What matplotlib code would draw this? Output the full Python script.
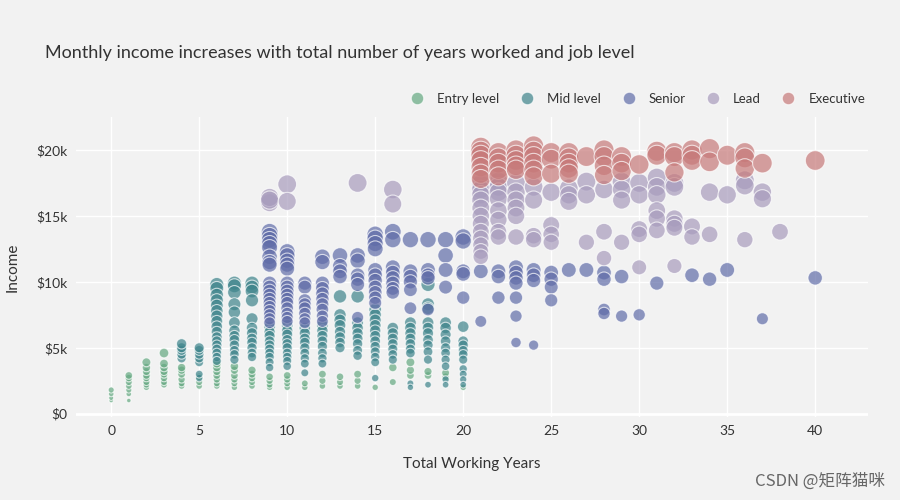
import numpy as np
import matplotlib
matplotlib.use('Agg')
import matplotlib.pyplot as plt
from matplotlib.lines import Line2D

# monthly income (in $k) per total working years, one dict per job level
entry_level = {
    0: [1.0, 1.2, 1.5, 1.8],
    1: [1.0, 1.5, 1.8, 2.1, 2.4, 2.7, 2.9],
    2: [2.0, 2.2, 2.4, 2.7, 2.9, 3.2, 3.5, 3.9],
    3: [2.2, 2.4, 2.7, 3.0, 3.2, 3.5, 3.8, 4.6],
    4: [2.1, 2.3, 2.6, 3.0, 3.3, 3.5],
    5: [2.1, 2.4, 2.8],
    6: [2.1, 2.3, 2.6, 2.9, 3.2, 3.5, 3.8],
    7: [2.0, 2.3, 2.6, 2.9, 3.3, 3.6],
    8: [2.1, 2.4, 2.7, 3.0, 3.3],
    9: [2.0, 2.2, 2.5, 2.8],
    10: [2.0, 2.3, 2.6, 2.9],
    11: [2.0, 2.3],
    12: [2.1, 2.5, 3.0],
    13: [2.1, 2.4, 2.8],
    14: [2.1, 2.5, 3.0],
    15: [2.0],
    16: [2.4, 3.5],
    17: [2.9, 3.3, 3.9],
    18: [2.9, 3.2],
    19: [2.8, 3.1],
    20: [2.0],
}
mid_level = {
    4: [4.2, 4.5, 4.8, 5.0, 5.3],
    5: [2.7, 3.0, 3.9, 4.2, 4.5, 4.8, 5.0],
    6: [9.8, 9.5, 9.0, 8.6, 8.2, 7.8, 7.4, 7.0, 6.6, 6.2, 5.8, 5.5, 5.2, 4.9, 4.6, 4.3, 4.0],
    7: [9.9, 9.7, 9.2, 8.3, 7.7, 6.9, 6.3, 5.9, 5.6, 5.2, 4.8, 4.5, 4.1],
    8: [9.9, 9.6, 9.3, 8.6, 7.2, 6.5, 6.1, 5.7, 5.4, 5.0, 4.6, 4.3],
    9: [6.6, 6.2, 5.9, 5.5, 5.2, 4.9, 4.6, 4.3, 3.9, 3.5],
    10: [6.7, 6.3, 6.0, 5.6, 5.3, 5.0, 4.6, 4.3, 4.0, 3.6],
    11: [6.5, 6.1, 5.7, 5.4, 5.0, 4.6, 4.2, 3.8, 3.1],
    12: [6.7, 6.3, 5.9, 5.5, 5.1, 4.6, 4.2, 3.8],
    13: [8.9, 7.5, 7.1, 6.7, 6.2, 5.8, 5.4, 5.0],
    14: [8.9, 6.9, 6.5, 6.1, 5.7, 5.3, 4.8, 4.4],
    15: [7.9, 7.5, 7.1, 6.7, 6.3, 5.9, 5.5, 5.1, 4.7, 4.3, 3.9, 2.7],
    16: [6.5, 6.1, 5.7, 5.3, 4.9, 4.5, 4.1],
    17: [6.9, 6.5, 6.1, 5.7, 5.3, 4.9, 4.6, 2.3, 2.0],
    18: [9.8, 8.3, 8.0, 6.9, 6.5, 6.1, 5.6, 5.2, 4.7, 4.1, 2.2],
    19: [6.9, 6.5, 6.0, 5.5, 5.0, 4.6, 4.1, 3.6, 2.6, 2.2],
    20: [6.6, 5.5, 5.2, 4.8, 4.5, 4.1, 3.4, 3.0, 2.6, 2.2],
}
senior = {
    9: [13.8, 13.5, 13.2, 12.9, 12.6, 11.9, 11.5, 11.3, 9.9, 9.6, 9.3, 9.0, 8.7, 8.4, 8.1, 7.8, 7.5, 7.2, 6.9],
    10: [12.3, 12.0, 11.6, 11.3, 11.0, 9.9, 9.6, 9.3, 9.0, 8.7, 8.4, 8.0, 7.6, 7.3, 7.0],
    11: [9.9, 9.6, 8.6, 8.3, 8.0, 7.6, 7.2, 6.9],
    12: [11.9, 11.5, 9.9, 9.5, 9.1, 8.7, 8.3, 7.9, 7.4, 7.0],
    13: [12.0, 11.2, 10.8, 10.4],
    14: [12.0, 11.6, 10.5, 10.2, 9.8, 7.3],
    15: [13.6, 13.3, 12.9, 12.5, 10.9, 10.5, 10.1, 9.6, 9.2, 8.8, 8.4],
    16: [13.8, 13.2, 11.1, 10.7, 10.3, 9.9, 9.5, 9.2],
    17: [13.2, 10.8, 10.4, 10.0, 9.4, 8.0],
    18: [13.2, 10.9, 10.5, 10.3, 7.9],
    19: [13.2, 12.0, 10.9, 9.6],
    20: [13.4, 13.1, 10.8, 10.6, 8.8],
    21: [10.8, 7.0],
    22: [10.8, 10.4, 8.8],
    23: [11.1, 10.7, 10.3, 9.9, 8.8, 7.4, 5.4],
    24: [10.9, 10.5, 10.1, 5.2],
    25: [10.7, 10.2, 9.6, 8.6],
    26: [10.9],
    27: [10.9],
    28: [10.7, 10.2, 7.9, 7.6],
    29: [10.4, 7.4],
    30: [7.5],
    31: [9.9],
    33: [10.5],
    34: [10.2],
    35: [10.9],
    37: [7.2],
    40: [10.3],
}
lead = {
    9: [16.0, 16.4, 16.2],
    10: [17.4, 16.1],
    14: [17.5],
    16: [17.0, 15.9],
    21: [17.4, 17.0, 16.6, 16.2, 15.6, 15.0, 14.4, 13.8, 13.3, 12.8, 12.3, 11.9],
    22: [17.6, 17.2, 16.8, 16.3, 15.4, 14.7, 13.8, 13.4],
    23: [17.5, 16.8, 16.2, 15.6, 15.0, 13.4],
    24: [17.2, 16.2, 13.5, 13.2],
    25: [16.8, 14.3, 13.6, 13.0],
    26: [17.1, 16.6, 16.1],
    27: [17.6, 16.6, 13.0],
    28: [17.0, 13.8, 11.8],
    29: [17.6, 17.0, 16.2, 13.0],
    30: [17.5, 16.6, 14.0, 13.6, 11.1],
    31: [17.9, 17.2, 16.6, 15.4, 14.8, 13.9],
    32: [17.5, 17.2, 14.8, 14.4, 14.1, 11.2],
    33: [14.2, 13.4],
    34: [16.8, 13.6],
    35: [16.6],
    36: [17.7, 17.3, 13.2],
    37: [16.8, 16.3],
    38: [13.8],
}
executive = {
    21: [20.2, 19.9, 19.6, 19.2, 18.7, 18.2, 17.8],
    22: [19.8, 19.4, 19.0, 18.5, 18.0],
    23: [20.0, 19.6, 19.2, 18.8, 18.5],
    24: [20.3, 19.9, 19.5, 19.0, 18.5, 18.0],
    25: [19.8, 19.3, 18.2],
    26: [19.8, 19.4, 19.0, 18.6, 18.2],
    27: [19.5],
    28: [20.0, 19.5, 18.8, 18.1],
    29: [19.5, 19.0, 18.4],
    30: [18.9],
    31: [19.9, 19.6],
    32: [19.8, 19.5, 18.3],
    33: [20.0, 19.6, 19.2],
    34: [20.1, 19.1],
    35: [19.6],
    36: [19.8, 19.4, 18.6],
    37: [19.0],
    40: [19.2],
}

levels = ['Entry level', 'Mid level', 'Senior', 'Lead', 'Executive']
level_data = [entry_level, mid_level, senior, lead, executive]
colors = ['#64a881', '#3d848b', '#606ca8', '#a89cbd', '#c77a7a']

x_ticks = [0, 5, 10, 15, 20, 25, 30, 35, 40]
y_ticks = [0, 5, 10, 15, 20]
y_ticklabels = ['$0', '$5k', '$10k', '$15k', '$20k']

bg = '#f2f2f2'
txt = '#333333'
font = 'Lato'

fig = plt.figure(figsize=(9, 5), dpi=100, facecolor=bg)
ax = fig.add_axes([76/900, 1-417/500, (868-76)/900, (417-117)/500], facecolor=bg)

for name, data, c in zip(levels, level_data, colors):
    xs = [yr for yr, vals in data.items() for v in vals]
    ys = [v for yr, vals in data.items() for v in vals]
    ax.scatter(xs, ys, s=np.array(ys)*10.5, color=c, alpha=0.7,
               edgecolors='white', linewidths=0.8, zorder=3)

ax.set_xlim(-2, 43)
ax.set_ylim(-0.25, 22.5)
ax.set_xticks(x_ticks)
ax.set_yticks(y_ticks)
ax.set_yticklabels(y_ticklabels)
ax.grid(color='white', linewidth=1, zorder=0)
ax.axhline(0, color='white', linewidth=2, zorder=1)
ax.set_axisbelow(True)
for sp in ax.spines.values():
    sp.set_visible(False)
ax.tick_params(length=0, labelsize=10, labelcolor=txt, pad=6)
for lab in ax.get_xticklabels() + ax.get_yticklabels():
    lab.set_family(font)

ax.set_xlabel('Total Working Years', fontsize=11, color=txt, family=font, labelpad=14)
ax.set_ylabel('Income', fontsize=11, color=txt, family=font, labelpad=12)

fig.text(45/900, 1-53/500, 'Monthly income increases with total number of years worked and job level',
         fontsize=13, color=txt, family=font, va='center', ha='left')

handles = [Line2D([], [], marker='o', linestyle='', markersize=9, markerfacecolor=c,
                  markeredgecolor='white', markeredgewidth=0.8, alpha=0.7) for c in colors]
leg = fig.legend(handles, levels, loc='center right', bbox_to_anchor=(877/900, 1-99/500),
                 ncol=5, frameon=False, handletextpad=0.5, columnspacing=1.1,
                 prop={'family': font, 'size': 9.5})
for t in leg.get_texts():
    t.set_color(txt)

fig.text(885/900, 1-481/500, 'CSDN @矩阵猫咪', fontsize=12, color='#666666', ha='right', va='center',
         family=['Noto Sans CJK SC', 'DejaVu Sans'])

fig.savefig('out.png', dpi=100, facecolor=bg)
